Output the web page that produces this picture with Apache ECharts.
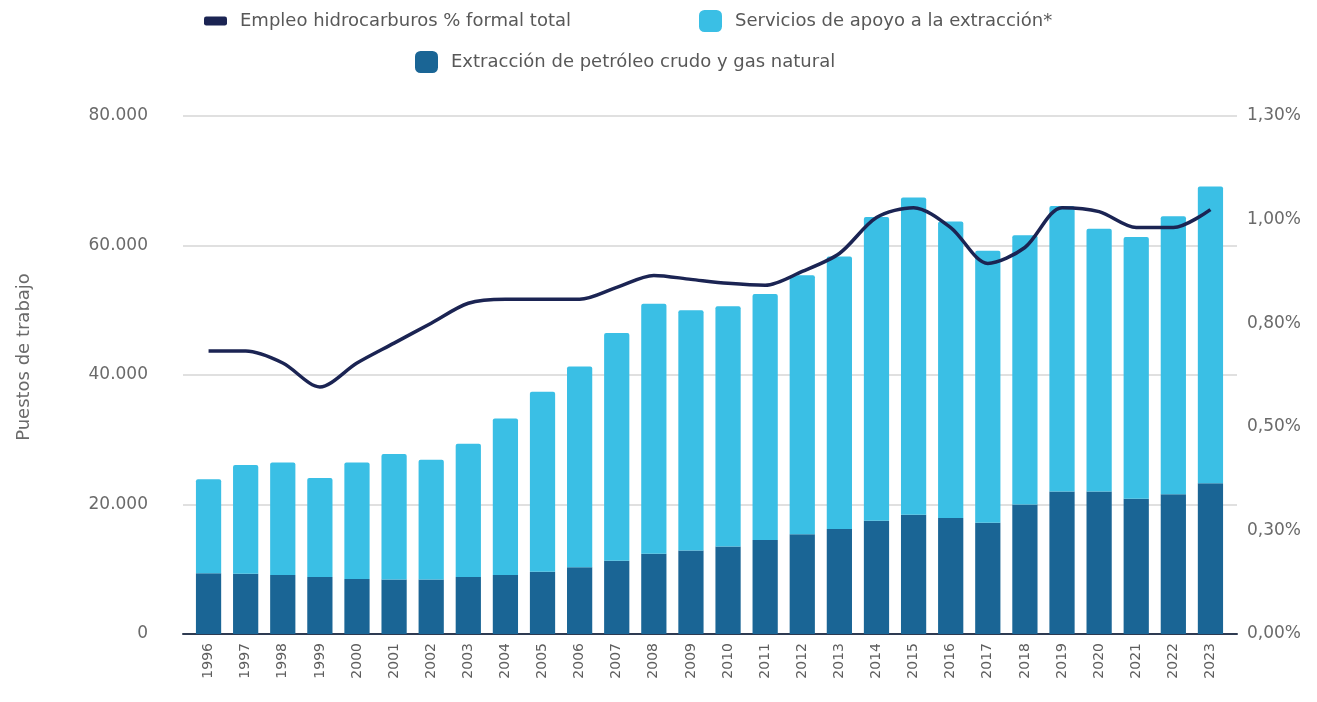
<!DOCTYPE html>
<html>
<head>
<meta charset="utf-8">
<script src="https://cdn.jsdelivr.net/npm/echarts@6/dist/echarts.min.js"></script>
<style>
  html, body { margin: 0; padding: 0; background: #ffffff; }
  #chart { width: 1317px; height: 702px; }
</style>
</head>
<body>
<div id="chart"></div>
<script>
// Employment in hydrocarbons (jobs) and its share of total formal employment
const years = ['1996','1997','1998','1999','2000','2001','2002','2003','2004','2005','2006','2007','2008','2009',
  '2010','2011','2012','2013','2014','2015','2016','2017','2018','2019','2020','2021','2022','2023'];

// Extracción de petróleo crudo y gas natural (puestos)
const extraccion = [9400, 9300, 9100, 8800, 8500, 8400, 8400, 8800, 9100, 9600, 10300, 11300, 12400, 12900,
  13500, 14500, 15400, 16200, 17500, 18400, 17900, 17200, 20000, 22000, 22000, 20900, 21600, 23300];

// Servicios de apoyo a la extracción (puestos)
const servicios = [14500, 16800, 17400, 15300, 18000, 19400, 18500, 20600, 24200, 27800, 31000, 35200, 38600, 37100,
  37100, 38000, 40000, 42100, 46900, 49000, 45800, 42000, 41600, 44100, 40600, 40400, 42900, 45800];

// Empleo hidrocarburos como % del empleo formal total
const participacion = [0.71, 0.71, 0.68, 0.62, 0.68, 0.73, 0.78, 0.83, 0.84, 0.84, 0.84, 0.87, 0.90, 0.89,
  0.88, 0.875, 0.91, 0.955, 1.045, 1.07, 1.02, 0.93, 0.97, 1.07, 1.06, 1.02, 1.02, 1.065];

const leftTickLabels = ['0', '20.000', '40.000', '60.000', '80.000'];
const rightTickLabels = ['0,00%', '0,30%', '0,50%', '0,80%', '1,00%', '1,30%'];
const yAxisTitle = 'Puestos de trabajo';

const NAME_LINE = 'Empleo hidrocarburos % formal total';
const NAME_SERV = 'Servicios de apoyo a la extracción*';
const NAME_EXTR = 'Extracción de petróleo crudo y gas natural';

const C_LINE = '#1b2453';
const C_SERV = '#3abfe5';
const C_EXTR = '#1a6595';
const FONT = '"DejaVu Sans", "Noto Sans", sans-serif';
const TXT = '#6a6a6a';

const chart = echarts.init(document.getElementById('chart'), null, { renderer: 'canvas' });

const legendText = { color: '#585858', fontSize: 18, fontFamily: FONT, padding: [0, 0, 0, 8] };

chart.setOption({
  animation: false,
  backgroundColor: '#ffffff',
  legend: [
    { left: 199, top: 7, itemWidth: 23, itemHeight: 9, icon: 'roundRect',
      data: [NAME_LINE], textStyle: legendText },
    { left: 694, top: 5, itemWidth: 23, itemHeight: 22, icon: 'roundRect',
      data: [NAME_SERV], textStyle: legendText },
    { left: 410, top: 46, itemWidth: 23, itemHeight: 22, icon: 'roundRect',
      data: [NAME_EXTR], textStyle: legendText }
  ],
  graphic: [
    {
      type: 'text', x: 24, y: 357, rotation: Math.PI / 2,
      style: { text: yAxisTitle, fill: TXT, fontSize: 18, fontFamily: FONT,
        textAlign: 'center', textVerticalAlign: 'middle' }
    }
  ],
  grid: [
    { left: 190, right: 88, top: 116, bottom: 68 },
    { left: 183, right: 80, top: 116, bottom: 68 }
  ],
  xAxis: [
    {
      type: 'category', gridIndex: 0, data: years,
      axisLine: { show: false }, axisTick: { show: false },
      axisLabel: { rotate: 90, margin: 9, color: '#5e5e5e', fontSize: 14, fontFamily: FONT }
    },
    {
      type: 'value', gridIndex: 1, min: 0, max: 1,
      axisLine: { show: true, onZero: false, lineStyle: { color: '#2e3b52', width: 2 } },
      axisTick: { show: false }, axisLabel: { show: false }, splitLine: { show: false }
    }
  ],
  yAxis: [
    {
      type: 'value', gridIndex: 0, min: 0, max: 80000, interval: 20000,
      axisLine: { show: false }, axisTick: { show: false }, splitLine: { show: false },
      axisLabel: {
        margin: 42, color: TXT, fontSize: 17, fontFamily: FONT,
        formatter: v => leftTickLabels[Math.round(v / 20000)]
      }
    },
    {
      type: 'value', gridIndex: 0, position: 'right', min: 0, max: 1.3, interval: 0.26,
      axisLine: { show: false }, axisTick: { show: false }, splitLine: { show: false },
      axisLabel: {
        margin: 18, color: TXT, fontSize: 17, fontFamily: FONT,
        formatter: v => rightTickLabels[Math.round(v / 0.26)]
      }
    },
    {
      type: 'value', gridIndex: 1, min: 0, max: 80000, interval: 20000,
      axisLine: { show: false }, axisTick: { show: false }, axisLabel: { show: false },
      splitLine: { show: true, lineStyle: { color: '#d6d6d6', width: 1.5 } }
    }
  ],
  series: [
    {
      name: NAME_EXTR, type: 'bar', stack: 'empleo', xAxisIndex: 0, yAxisIndex: 0,
      barWidth: '68%', itemStyle: { color: C_EXTR }, data: extraccion
    },
    {
      name: NAME_SERV, type: 'bar', stack: 'empleo', xAxisIndex: 0, yAxisIndex: 0,
      barWidth: '68%', itemStyle: { color: C_SERV, borderRadius: [2, 2, 0, 0] }, data: servicios
    },
    {
      name: NAME_LINE, type: 'line', xAxisIndex: 0, yAxisIndex: 1, z: 5,
      smooth: 0.3, symbol: 'none',
      lineStyle: { color: C_LINE, width: 3.5 }, itemStyle: { color: C_LINE },
      data: participacion
    }
  ]
});
</script>
</body>
</html>
